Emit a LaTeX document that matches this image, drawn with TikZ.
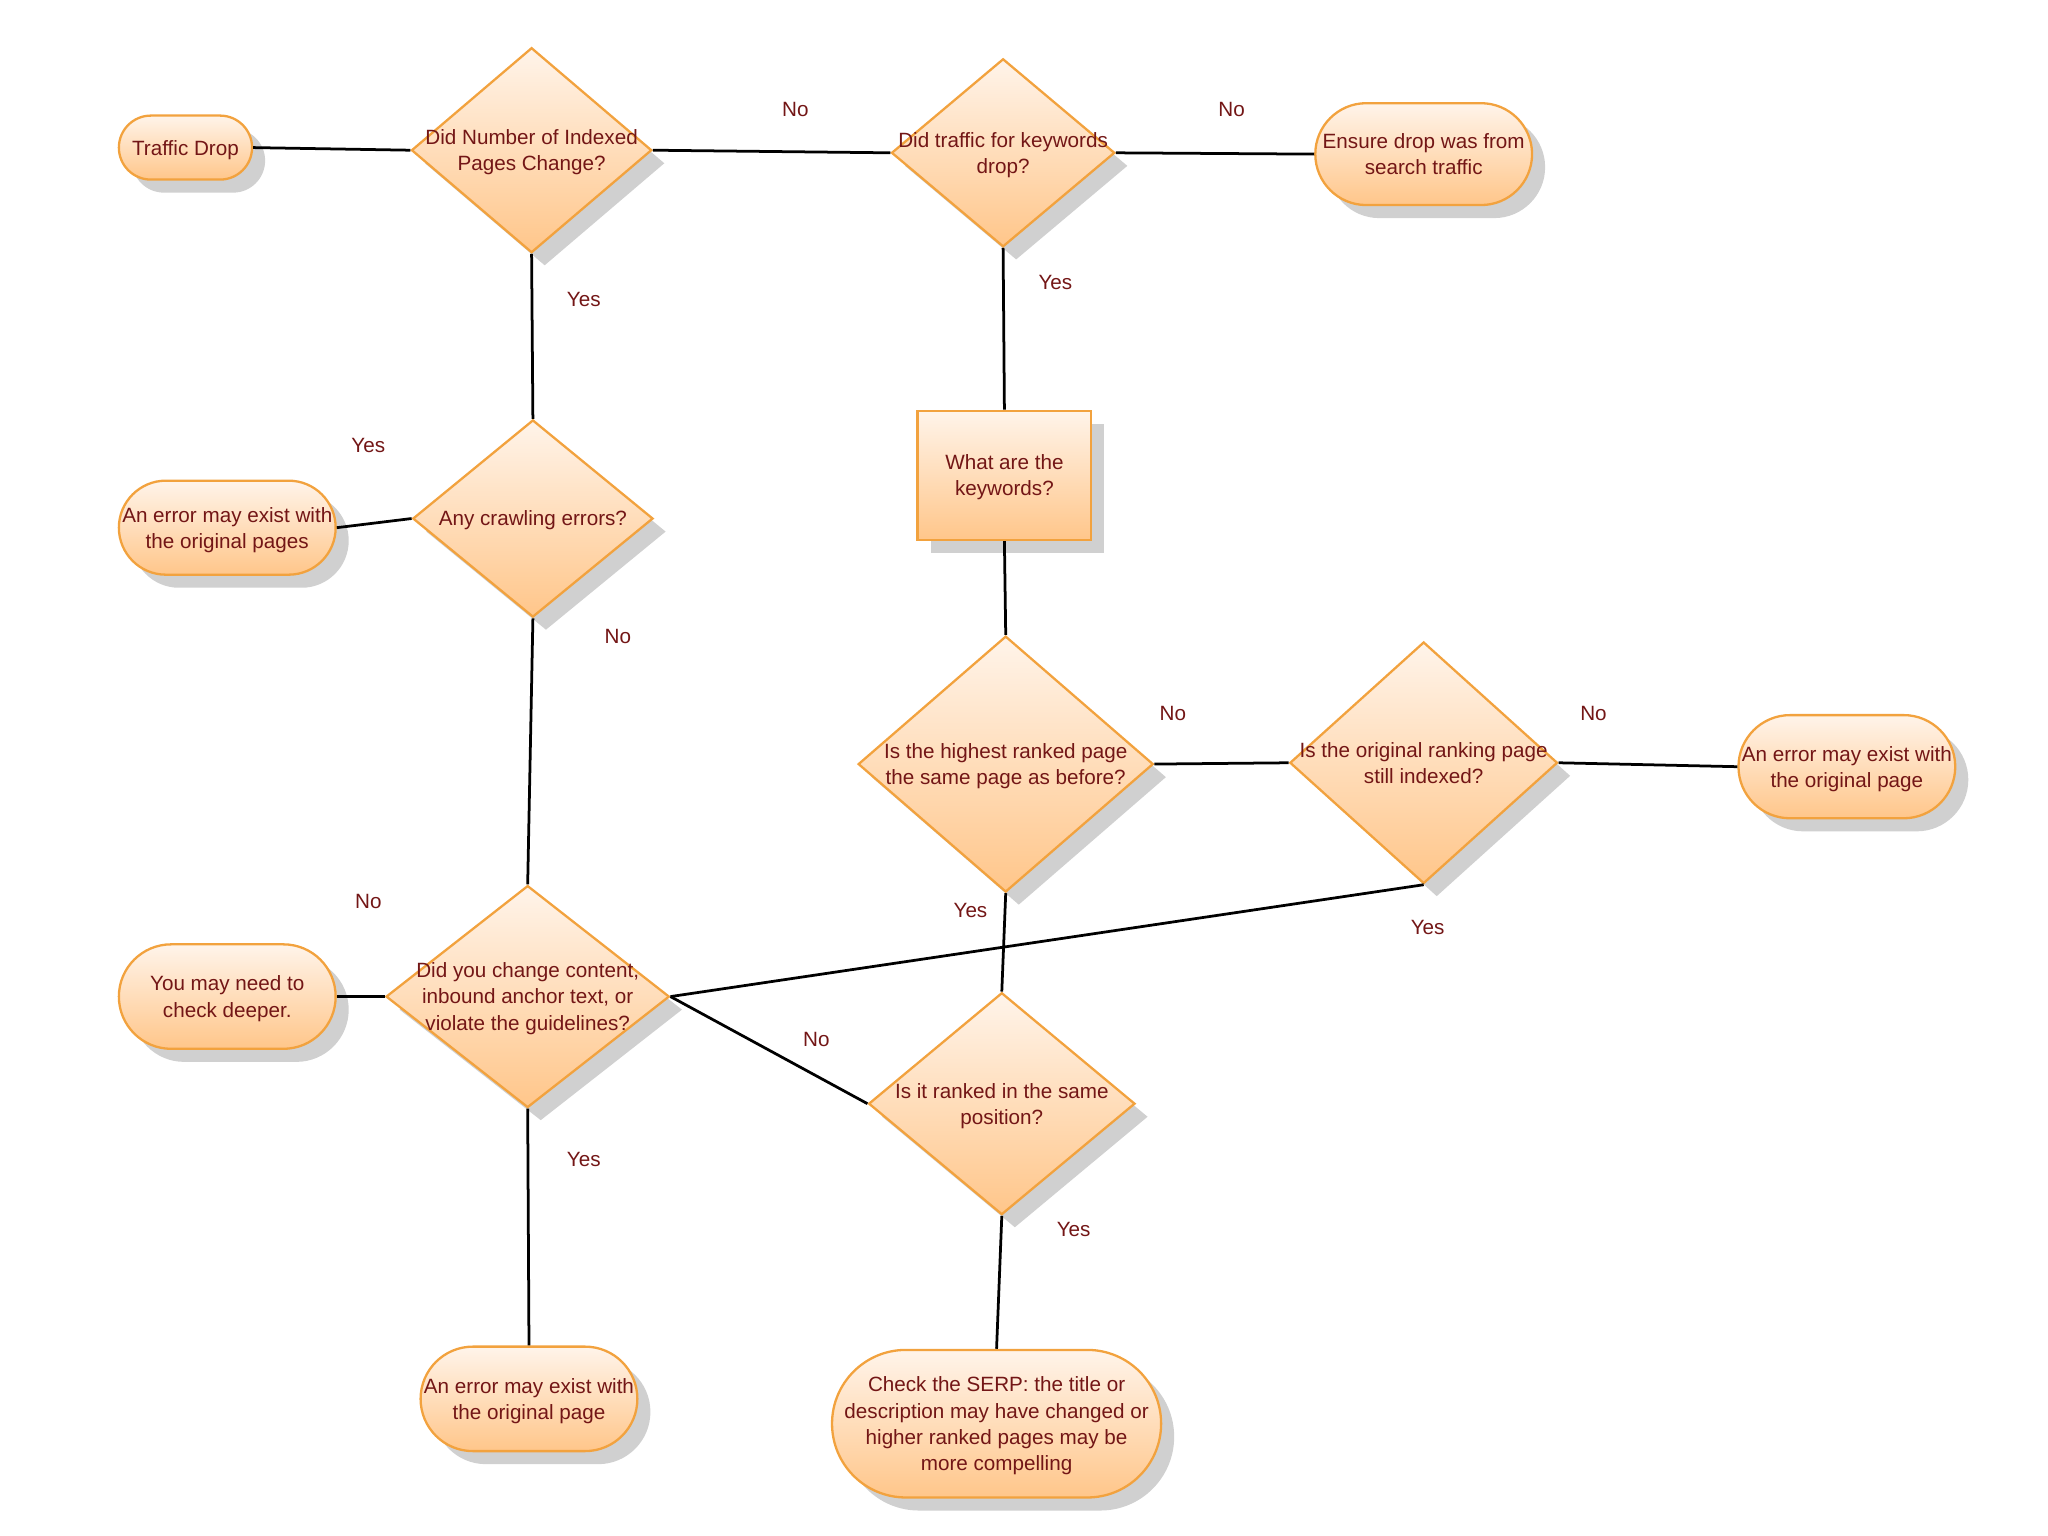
\documentclass[tikz,border=0pt]{standalone}
\usepackage{fontspec}
\setmainfont{Liberation Sans}
\usetikzlibrary{shapes.geometric,shapes.misc,shadows}
\definecolor{nodeline}{RGB}{242,162,62}
\definecolor{nodetop}{RGB}{255,244,234}
\definecolor{nodebottom}{RGB}{255,198,138}
\definecolor{textred}{RGB}{115,22,22}
\definecolor{shadowgray}{RGB}{208,208,208}
% text of fixed-size nodes, kept out of the size computation
\newcommand{\ctext}[1]{\makebox[0pt]{\smash{\raisebox{-3.2pt}{\begin{tabular}{@{}c@{}}#1\end{tabular}}}}}
\tikzset{
  base/.style={draw=nodeline, line width=1pt, top color=nodetop, bottom color=nodebottom,
    inner sep=0pt, text=textred, font=\fontsize{9}{11.4}\selectfont,
    drop shadow={shadow xshift=0.2cm, shadow yshift=-0.2cm, fill=shadowgray, opacity=1}},
  decision/.style 2 args={base, diamond, minimum width=#1, minimum height=#2},
  terminal/.style 2 args={base, rounded rectangle, minimum width=#1, minimum height=#2},
  process/.style 2 args={base, rectangle, minimum width=#1, minimum height=#2},
  link/.style={line width=1.2pt},
  lbl/.style={text=textred, font=\fontsize{9}{11}\selectfont},
}
\begin{document}
\begin{tikzpicture}[x=0.02cm, y=-0.02cm]
\useasboundingbox (0,0) rectangle (1568,1176);
% nodes
\node[terminal={2.04cm}{0.98cm}] (drop) at (142,113) {\ctext{Traffic Drop}};
\node[decision={3.68cm}{3.14cm}] (indexed) at (407,115) {\ctext{Did Number of Indexed\\Pages Change?}};
\node[decision={3.42cm}{2.88cm}] (kwdrop) at (768,117) {\ctext{Did traffic for keywords\\drop?}};
\node[terminal={3.32cm}{1.56cm}] (search) at (1090,118) {\ctext{Ensure drop was from\\search traffic}};
\node[process={2.66cm}{1.98cm}] (keywords) at (769,364) {\ctext{What are the\\keywords?}};
\node[decision={3.68cm}{3.02cm}] (crawl) at (408,397) {\ctext{Any crawling errors?}};
\node[terminal={3.32cm}{1.44cm}] (errpages) at (174,404) {\ctext{An error may exist with\\the original pages}};
\node[decision={4.52cm}{3.92cm}] (highest) at (770,585) {\ctext{Is the highest ranked page\\the same page as before?}};
\node[decision={4.10cm}{3.70cm}] (stillidx) at (1090,584) {\ctext{Is the original ranking page\\still indexed?}};
\node[terminal={3.32cm}{1.58cm}] (errright) at (1414,587) {\ctext{An error may exist with\\the original page}};
\node[decision={4.34cm}{3.40cm}] (changed) at (404,763) {\ctext{Did you change content,\\inbound anchor text, or\\violate the guidelines?}};
\node[terminal={3.32cm}{1.60cm}] (deeper) at (174,763) {\ctext{You may need to\\check deeper.}};
\node[decision={4.08cm}{3.40cm}] (samepos) at (767,845) {\ctext{Is it ranked in the same\\position?}};
\node[terminal={3.32cm}{1.60cm}] (errbottom) at (405,1071) {\ctext{An error may exist with\\the original page}};
\node[terminal={5.04cm}{2.26cm}] (serp) at (763,1090) {\ctext{Check the SERP: the title or\\description may have changed or\\higher ranked pages may be\\more compelling}};
% connectors
\draw[link] (drop.east) -- (indexed.west);
\draw[link] (indexed.east) -- (kwdrop.west);
\draw[link] (kwdrop.east) -- (search.west);
\draw[link] (indexed.south) -- (crawl.north);
\draw[link] (kwdrop.south) -- (keywords.north);
\draw[link] (crawl.west) -- (errpages.east);
\draw[link] (crawl.south) -- (changed.north);
\draw[link] (keywords.south) -- (highest.north);
\draw[link] (highest.east) -- (stillidx.west);
\draw[link] (stillidx.east) -- (errright.west);
\draw[link] (stillidx.south) -- (changed.east);
\draw[link] (highest.south) -- (samepos.north);
\draw[link] (changed.west) -- (deeper.east);
\draw[link] (changed.east) -- (samepos.west);
\draw[link] (changed.south) -- (errbottom.north);
\draw[link] (samepos.south) -- (serp.north);
% answers
\node[lbl] (no1) at (609,84) {No};
\node[lbl] (no2) at (943,84) {No};
\node[lbl] (yes1) at (447,229) {Yes};
\node[lbl] (yes2) at (808,216) {Yes};
\node[lbl] (yes3) at (282,341) {Yes};
\node[lbl] (no3) at (473,487) {No};
\node[lbl] (no4) at (898,546) {No};
\node[lbl] (no5) at (1220,546) {No};
\node[lbl] (yes4) at (1093,710) {Yes};
\node[lbl] (yes5) at (743,697) {Yes};
\node[lbl] (no6) at (282,690) {No};
\node[lbl] (no7) at (625,796) {No};
\node[lbl] (yes6) at (447,888) {Yes};
\node[lbl] (yes7) at (822,941) {Yes};
\end{tikzpicture}
\end{document}
